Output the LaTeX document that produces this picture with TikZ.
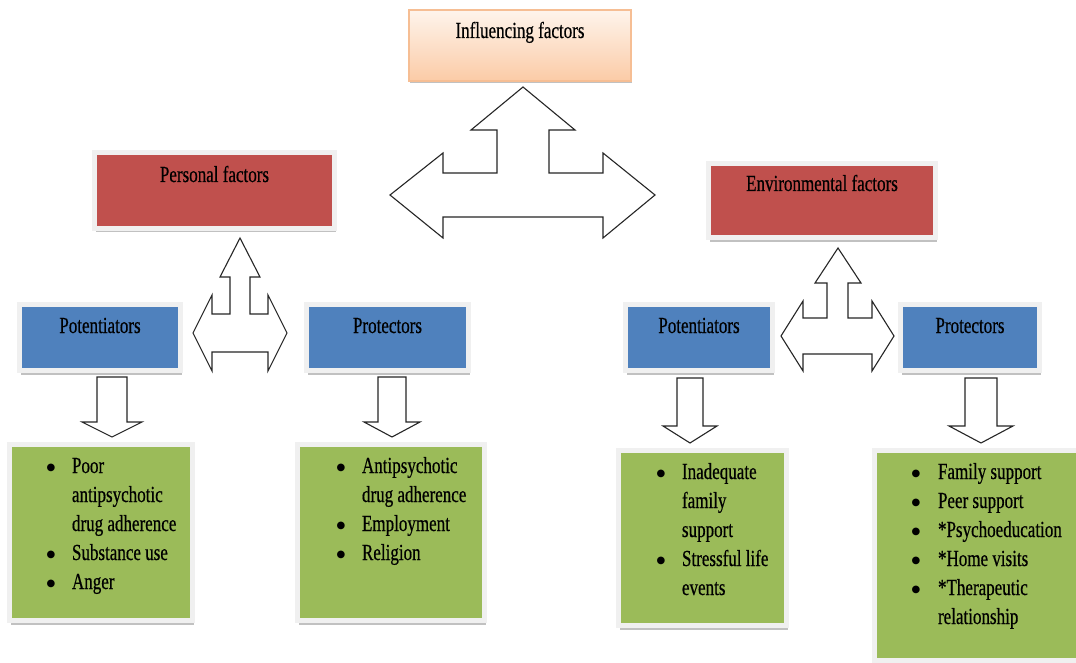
\documentclass[tikz,border=0pt]{standalone}
\usepackage{fontspec}
\setmainfont{Liberation Serif}
\newfontfamily\tf[FakeStretch=0.74,FakeBold=0.5]{Liberation Serif}
\newfontfamily\bulfont{DejaVu Sans}
\usetikzlibrary{shadows}
\definecolor{boxred}{HTML}{C0504D}
\definecolor{boxblue}{HTML}{4F81BD}
\definecolor{boxgreen}{HTML}{9BBB59}
\definecolor{framegray}{HTML}{F0F0F0}
\definecolor{peachtop}{HTML}{FEF4EC}
\definecolor{peachbot}{HTML}{FBCBA6}
\definecolor{peachline}{HTML}{F6BE94}
\newcommand{\ff}{\tf\fontsize{23}{29}\selectfont}
\newcommand{\bigbul}{\raisebox{2.5pt}{\bulfont\fontsize{10}{10}\selectfont ●}}
\newcommand{\bitem}[1]{\par\noindent\hspace*{\bulx}\makebox[\dimexpr\txtx-\bulx\relax][l]{\bigbul}#1}
\newcommand{\contline}[1]{\par\noindent\hspace*{\txtx}#1}
\tikzset{
  frm/.style={draw=framegray, line width=5pt, inner sep=0pt, font=\ff,
    drop shadow={shadow xshift=1pt, shadow yshift=-4pt, fill=black!40, opacity=0.6}},
  blockarrow/.style={draw=black!85, line width=1.1pt, fill=white, line join=miter}
}
\begin{document}
\begin{tikzpicture}[x=1pt,y=-1pt]
\useasboundingbox (0,0) rectangle (1076,663);
\fill[white] (0,0) rectangle (1076,663);

% top box
\node[draw=peachline, line width=1.2pt, top color=peachtop, bottom color=peachbot,
  minimum width=222pt, minimum height=71pt, inner sep=0pt, text height=28pt, text depth=43pt,
  font=\ff, drop shadow={shadow xshift=1pt, shadow yshift=-2pt, fill=black!40, opacity=0.6}]
  (infl) at (520,45.5) {Influencing factors};

% factor boxes
\node[frm, fill=boxred, minimum width=240pt, minimum height=76pt, text height=29.5pt, text depth=46.5pt]
  (personal) at (214.5,190.5) {Personal factors};
\node[frm, fill=boxred, minimum width=227pt, minimum height=74pt, text height=27.5pt, text depth=46.5pt]
  (environ) at (822,200.5) {Environmental factors};

% blue boxes
\node[frm, fill=boxblue, minimum width=161pt, minimum height=66pt, text height=28.5pt, text depth=37.5pt]
  (potL) at (100,337.5) {Potentiators};
\node[frm, fill=boxblue, minimum width=162pt, minimum height=66pt, text height=28.5pt, text depth=37.5pt]
  (proL) at (387.5,337.5) {Protectors};
\node[frm, fill=boxblue, minimum width=147pt, minimum height=66pt, text height=28.5pt, text depth=37.5pt]
  (potR) at (699,337.5) {Potentiators};
\node[frm, fill=boxblue, minimum width=139pt, minimum height=66pt, text height=28.5pt, text depth=37.5pt]
  (proR) at (970,337.5) {Protectors};

% green boxes
\node[frm, fill=boxgreen, minimum width=183pt, minimum height=176pt, text height=28.5pt, text depth=147.5pt]
  (listPotL) at (101,532.5) {\parbox[t]{183pt}{\def\bulx{37pt}\def\txtx{62.5pt}%
    \bitem{Poor}\contline{antipsychotic}\contline{drug adherence}\bitem{Substance use}\bitem{Anger}}};
\node[frm, fill=boxgreen, minimum width=187pt, minimum height=176pt, text height=28.5pt, text depth=147.5pt]
  (listProL) at (391,532.5) {\parbox[t]{187pt}{\def\bulx{39pt}\def\txtx{64.5pt}%
    \bitem{Antipsychotic}\contline{drug adherence}\bitem{Employment}\bitem{Religion}}};
\node[frm, fill=boxgreen, minimum width=168pt, minimum height=175pt, text height=28.5pt, text depth=146.5pt]
  (listPotR) at (702.5,538) {\parbox[t]{168pt}{\def\bulx{38pt}\def\txtx{63.5pt}%
    \bitem{Inadequate}\contline{family}\contline{support}\bitem{Stressful life}\contline{events}}};
\node[frm, fill=boxgreen, minimum width=203.5pt, minimum height=210pt, text height=28.5pt, text depth=181.5pt]
  (listProR) at (976.25,555.5) {\parbox[t]{203.5pt}{\def\bulx{37pt}\def\txtx{63.5pt}%
    \bitem{Family support}\bitem{Peer support}\bitem{*Psychoeducation}\bitem{*Home visits}\bitem{*Therapeutic}\contline{relationship}}};

% central three-way arrow
\draw[blockarrow] (523,87) -- (575,130) -- (549,130) -- (549,173) -- (603,173) -- (603,153)
  -- (655,195) -- (603,238) -- (603,217) -- (443,217) -- (443,238) -- (390,195) -- (443,153)
  -- (443,173) -- (497,173) -- (497,130) -- (471,130) -- cycle;

% personal three-way arrow
\draw[blockarrow] (240,238) -- (260,277) -- (250,277) -- (250,314) -- (268,314) -- (268,295)
  -- (287,333) -- (268,371) -- (268,352) -- (212,352) -- (212,371) -- (193,333) -- (212,295)
  -- (212,314) -- (230,314) -- (230,277) -- (220,277) -- cycle;

% environmental three-way arrow
\draw[blockarrow] (838,248) -- (861,283) -- (848,283) -- (848,318) -- (872,318) -- (872,301)
  -- (894,336) -- (872,371) -- (872,354) -- (803,354) -- (803,371) -- (781,336) -- (803,301)
  -- (803,318) -- (827,318) -- (827,283) -- (815,283) -- cycle;

% down arrows
\draw[blockarrow] (97,377) -- (127,377) -- (127,422) -- (142,422) -- (112,437) -- (82,422) -- (97,422) -- cycle;
\draw[blockarrow] (378,377) -- (406,377) -- (406,422) -- (420,422) -- (392,437) -- (364,422) -- (378,422) -- cycle;
\draw[blockarrow] (677,378) -- (703,378) -- (703,426) -- (717,426) -- (690,443) -- (663,426) -- (677,426) -- cycle;
\draw[blockarrow] (965,378) -- (997,378) -- (997,426) -- (1013,426) -- (981,443) -- (949,426) -- (965,426) -- cycle;
\end{tikzpicture}
\end{document}
